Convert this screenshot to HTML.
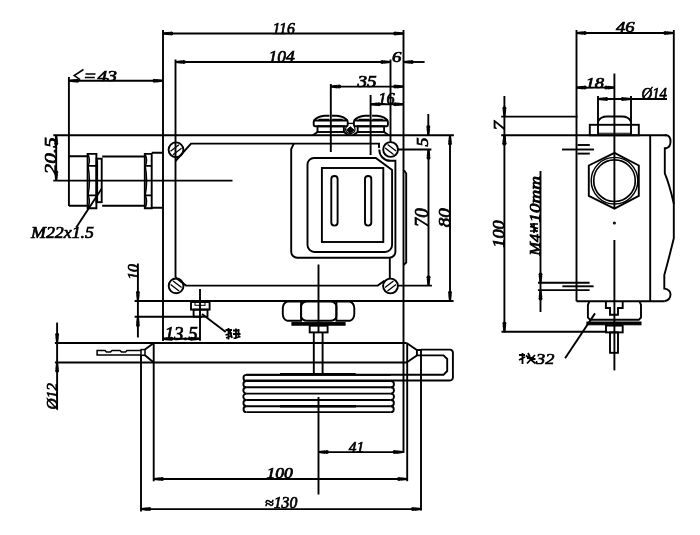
<!DOCTYPE html>
<html><head><meta charset="utf-8"><style>
html,body{margin:0;padding:0;background:#fff;}
svg{display:block;will-change:transform;}
text{font-family:"Liberation Serif",serif;font-style:italic;fill:#000;stroke:#000;stroke-width:0.7px;}
</style></head><body>
<svg width="700" height="535" viewBox="0 0 700 535">
<rect width="700" height="535" fill="#fff"/>
<g stroke="#000" stroke-width="1.9" fill="none" stroke-linecap="butt">
<line x1="163" y1="30" x2="163" y2="341"/>
<line x1="403.5" y1="30" x2="403.5" y2="453"/>
<line x1="163" y1="33.5" x2="403.5" y2="33.5"/>
<polygon points="163.00,34.50 169.80,35.30 169.80,31.70 163.00,32.50" fill="#000" stroke="none"/>
<circle cx="171.30" cy="33.50" r="2.0" fill="#000" stroke="none"/>
<polygon points="403.50,32.50 396.70,31.70 396.70,35.30 403.50,34.50" fill="#000" stroke="none"/>
<circle cx="395.20" cy="33.50" r="2.0" fill="#000" stroke="none"/>
<text x="272.4" y="33.7" font-size="16.9" textLength="22.4" lengthAdjust="spacingAndGlyphs">116</text>
<line x1="175.5" y1="59.5" x2="175.5" y2="277.5"/>
<line x1="390.5" y1="59.5" x2="390.5" y2="142.5"/>
<line x1="175.5" y1="62" x2="390.5" y2="62"/>
<polygon points="175.50,63.00 182.30,63.80 182.30,60.20 175.50,61.00" fill="#000" stroke="none"/>
<circle cx="183.80" cy="62.00" r="2.0" fill="#000" stroke="none"/>
<polygon points="390.50,61.00 383.70,60.20 383.70,63.80 390.50,63.00" fill="#000" stroke="none"/>
<circle cx="382.20" cy="62.00" r="2.0" fill="#000" stroke="none"/>
<text x="268.5" y="62.2" font-size="16.9" textLength="26.3" lengthAdjust="spacingAndGlyphs">104</text>
<line x1="403.5" y1="62" x2="424.6" y2="62"/>
<polygon points="403.50,63.00 410.30,63.80 410.30,60.20 403.50,61.00" fill="#000" stroke="none"/>
<circle cx="411.80" cy="62.00" r="2.0" fill="#000" stroke="none"/>
<text x="392" y="61.9" font-size="14.6" textLength="9.4" lengthAdjust="spacingAndGlyphs">6</text>
<line x1="330.8" y1="84" x2="330.8" y2="152"/>
<line x1="330.8" y1="86.6" x2="403.5" y2="86.6"/>
<polygon points="330.80,87.60 337.60,88.40 337.60,84.80 330.80,85.60" fill="#000" stroke="none"/>
<circle cx="339.10" cy="86.60" r="2.0" fill="#000" stroke="none"/>
<polygon points="403.50,85.60 396.70,84.80 396.70,88.40 403.50,87.60" fill="#000" stroke="none"/>
<circle cx="395.20" cy="86.60" r="2.0" fill="#000" stroke="none"/>
<text x="357.4" y="86.7" font-size="15.7" textLength="19.2" lengthAdjust="spacingAndGlyphs">35</text>
<line x1="370.6" y1="95" x2="370.6" y2="155"/>
<line x1="370.6" y1="104.3" x2="403.5" y2="104.3"/>
<polygon points="370.60,105.30 377.40,106.10 377.40,102.50 370.60,103.30" fill="#000" stroke="none"/>
<circle cx="378.90" cy="104.30" r="2.0" fill="#000" stroke="none"/>
<polygon points="403.50,103.30 396.70,102.50 396.70,106.10 403.50,105.30" fill="#000" stroke="none"/>
<circle cx="395.20" cy="104.30" r="2.0" fill="#000" stroke="none"/>
<text x="378.3" y="103.9" font-size="15.7" textLength="16.3" lengthAdjust="spacingAndGlyphs">16</text>
<line x1="68.9" y1="77" x2="68.9" y2="206"/>
<line x1="68.9" y1="80.7" x2="162.8" y2="80.7"/>
<polygon points="68.90,81.70 75.70,82.50 75.70,78.90 68.90,79.70" fill="#000" stroke="none"/>
<circle cx="77.20" cy="80.70" r="2.0" fill="#000" stroke="none"/>
<polygon points="162.80,79.70 156.00,78.90 156.00,82.50 162.80,81.70" fill="#000" stroke="none"/>
<circle cx="154.50" cy="80.70" r="2.0" fill="#000" stroke="none"/>
<text x="97.5" y="80.5" font-size="14.7" textLength="19.4" lengthAdjust="spacingAndGlyphs">43</text>
<path d="M83.5,69.5 L74.2,75.6 L80.2,79.6 M85.5,73.9 H95.5 M84.8,77.4 H94.8" stroke-width="1.5"/>
<line x1="53.3" y1="135.3" x2="453.9" y2="135.3"/>
<line x1="53.3" y1="180.6" x2="232.5" y2="180.6"/>
<line x1="56.2" y1="135.3" x2="56.2" y2="180.6"/>
<polygon points="55.20,135.30 54.40,142.10 58.00,142.10 57.20,135.30" fill="#000" stroke="none"/>
<circle cx="56.20" cy="143.60" r="2.0" fill="#000" stroke="none"/>
<polygon points="57.20,180.60 58.00,173.80 54.40,173.80 55.20,180.60" fill="#000" stroke="none"/>
<circle cx="56.20" cy="172.30" r="2.0" fill="#000" stroke="none"/>
<text transform="translate(56.3,174.5) rotate(-90)" x="0" y="0" font-size="17.5" textLength="37.3" lengthAdjust="spacingAndGlyphs">20.5</text>
<path d="M68.9,156.2 H87.8 M68.9,205.8 H87.8"/>
<path d="M87.6,208.3 V153.9 H96.4 V208.3 Z M87.6,165.9 H96.4 M87.6,195.4 H96.4"/>
<rect x="96.5" y="158.7" width="5.2" height="43.5"/>
<line x1="97.5" y1="160.4" x2="97.5" y2="202.2" stroke-width="1.2"/>
<path d="M88.1,154.6 Q90.8,160.45 88.1,166.3" stroke-width="1.4"/>
<path d="M88.1,166.3 Q90.8,180.65 88.1,195" stroke-width="1.4"/>
<path d="M88.1,195 Q90.8,201.4 88.1,207.8" stroke-width="1.4"/>
<path d="M145.3,154.6 Q148.0,160.45 145.3,166.3" stroke-width="1.4"/>
<path d="M145.3,166.3 Q148.0,180.65 145.3,195" stroke-width="1.4"/>
<path d="M145.3,195 Q148.0,201.4 145.3,207.8" stroke-width="1.4"/>
<path d="M102.2,156.5 H144.8 M102.2,205.8 H144.8"/>
<path d="M144.8,208.3 V153.9 H151.7 V208.3 Z M144.8,165.9 H151.7 M144.8,195.4 H151.7"/>
<path d="M151.7,152.8 H162.4 M151.7,207.8 H162.4"/>
<line x1="101.6" y1="188.8" x2="76.2" y2="227.6"/>
<text x="31" y="238.0" font-size="15.9" textLength="63.0" lengthAdjust="spacingAndGlyphs">M22x1.5</text>
<path d="M175.5,161 L191,143.6 H379 V148"/>
<path d="M379.3,149.5 A11,11 0 0 0 390.3,160.8 H395.4 V252 A6,6 0 0 1 389.4,257.7 H297.4 A6,6 0 0 1 291.2,251.7 V149 L293.8,143.6"/>
<circle cx="176" cy="149.8" r="7.4"/>
<path d="M170.5,151.3 L179,144.8 M173,154.8 L181.5,148.3" stroke-width="1.3"/>
<circle cx="390.6" cy="149.5" r="7.4"/>
<path d="M385.1,148.0 L393.6,154.5 M387.6,144.5 L396.1,151.0" stroke-width="1.3"/>
<circle cx="176.1" cy="285.9" r="7.4"/>
<path d="M170.6,284.4 L179.1,290.9 M173.1,280.9 L181.6,287.4" stroke-width="1.3"/>
<circle cx="390.5" cy="286" r="7.4"/>
<path d="M385.0,287.5 L393.5,281 M387.5,291 L396.0,284.5" stroke-width="1.3"/>
<line x1="397.6" y1="149.5" x2="431.4" y2="149.5"/>
<path d="M175.5,277.5 L186,285.6 H377.8 L384.4,280.8"/>
<line x1="397.6" y1="285.6" x2="431.9" y2="285.6"/>
<line x1="389.8" y1="257.7" x2="389.8" y2="278.2"/>
<line x1="134.6" y1="301" x2="453.6" y2="301"/>
<path d="M314,158 H375.8 L392.1,170.1 V245 A7,7 0 0 1 385.1,252 H314.5 A7,7 0 0 1 307.5,245 V164.5 A6.5,6.5 0 0 1 314,158 Z"/>
<rect x="321.9" y="168" width="61.4" height="74"/>
<rect x="331.3" y="176" width="6.3" height="49.6" rx="3.1"/>
<rect x="365" y="176" width="6.3" height="49.6" rx="3.1"/>
<path d="M403.5,171 H404.5 L406.2,173.5 V262.5 L403.5,265"/>
<path d="M314.0,120.5 Q317.7,116.3 324.7,115.8 H329.5 M331.9,115.8 H336.7 Q343.7,116.3 347.4,120.5"/>
<path d="M318.7,119.3 H329.2 M332.2,119.3 H342.7" stroke-width="1.2"/>
<rect x="313.7" y="120.5" width="34" height="5.8" rx="1.2"/>
<rect x="317.5" y="126.3" width="26.4" height="5.7"/>
<path d="M312.9,135.3 L317.5,132 M343.9,132 L348.5,135.3"/>
<path d="M354.2,120.5 Q357.9,116.3 364.9,115.8 H369.7 M372.09999999999997,115.8 H376.9 Q383.9,116.3 387.59999999999997,120.5"/>
<path d="M358.9,119.3 H369.4 M372.4,119.3 H382.9" stroke-width="1.2"/>
<rect x="353.9" y="120.5" width="34" height="5.8" rx="1.2"/>
<rect x="357.7" y="126.3" width="26.4" height="5.7"/>
<path d="M353.09999999999997,135.3 L357.7,132 M384.09999999999997,132 L388.7,135.3"/>
<line x1="347.7" y1="123.4" x2="353.9" y2="123.4" stroke-width="1.3"/>
<path d="M350.3,126.8 L354,130 L350.3,133.2 L346.6,130 Z" fill="#000" stroke-width="1.0"/>
<path d="M346.5,126 Q345,129 346,131.5 L350.3,134.3 L354.6,131.5 Q355.6,129 354.2,126" stroke-width="1.2"/>
<line x1="428.3" y1="114" x2="428.3" y2="135.3"/>
<polygon points="429.30,135.30 430.10,128.50 426.50,128.50 427.30,135.30" fill="#000" stroke="none"/>
<circle cx="428.30" cy="127.00" r="2.0" fill="#000" stroke="none"/>
<line x1="428.5" y1="149.5" x2="428.5" y2="285.6"/>
<polygon points="427.50,149.50 426.70,156.30 430.30,156.30 429.50,149.50" fill="#000" stroke="none"/>
<circle cx="428.50" cy="157.80" r="2.0" fill="#000" stroke="none"/>
<polygon points="429.50,285.60 430.30,278.80 426.70,278.80 427.50,285.60" fill="#000" stroke="none"/>
<circle cx="428.50" cy="277.30" r="2.0" fill="#000" stroke="none"/>
<text transform="translate(428.3,146.5) rotate(-90)" x="0" y="0" font-size="16.3" textLength="9.0" lengthAdjust="spacingAndGlyphs">5</text>
<text transform="translate(428.3,227.3) rotate(-90)" x="0" y="0" font-size="17.8" textLength="19.0" lengthAdjust="spacingAndGlyphs">70</text>
<line x1="450" y1="135.3" x2="450" y2="301"/>
<polygon points="449.00,135.30 448.20,142.10 451.80,142.10 451.00,135.30" fill="#000" stroke="none"/>
<circle cx="450.00" cy="143.60" r="2.0" fill="#000" stroke="none"/>
<polygon points="451.00,301.00 451.80,294.20 448.20,294.20 449.00,301.00" fill="#000" stroke="none"/>
<circle cx="450.00" cy="292.70" r="2.0" fill="#000" stroke="none"/>
<text transform="translate(450.0,227.3) rotate(-90)" x="0" y="0" font-size="16.0" textLength="19.0" lengthAdjust="spacingAndGlyphs">80</text>
<line x1="134.6" y1="316.7" x2="202" y2="316.7"/>
<line x1="137.9" y1="263.5" x2="137.9" y2="337.5"/>
<polygon points="138.90,301.00 139.70,294.20 136.10,294.20 136.90,301.00" fill="#000" stroke="none"/>
<circle cx="137.90" cy="292.70" r="2.0" fill="#000" stroke="none"/>
<polygon points="136.90,316.70 136.10,323.50 139.70,323.50 138.90,316.70" fill="#000" stroke="none"/>
<circle cx="137.90" cy="325.00" r="2.0" fill="#000" stroke="none"/>
<text transform="translate(137.5,279.8) rotate(-90)" x="0" y="0" font-size="15.6" textLength="15.8" lengthAdjust="spacingAndGlyphs">10</text>
<rect x="191" y="302" width="18.6" height="7.6"/>
<rect x="195" y="302" width="10" height="3.3" stroke-width="1.0"/>
<rect x="193.6" y="309.6" width="13.9" height="7.1"/>
<line x1="200" y1="288.9" x2="200" y2="340.7"/>
<line x1="163" y1="338.8" x2="200" y2="338.8"/>
<polygon points="163.00,339.80 169.80,340.60 169.80,337.00 163.00,337.80" fill="#000" stroke="none"/>
<circle cx="171.30" cy="338.80" r="2.0" fill="#000" stroke="none"/>
<polygon points="200.00,337.80 193.20,337.00 193.20,340.60 200.00,339.80" fill="#000" stroke="none"/>
<circle cx="191.70" cy="338.80" r="2.0" fill="#000" stroke="none"/>
<text x="164.6" y="339.5" font-size="18.8" textLength="33.3" lengthAdjust="spacingAndGlyphs">13.5</text>
<line x1="202" y1="314" x2="225.7" y2="332"/>
<path d="M225.5,330 H232 M228.5,328 V339.5 M225.5,335 L232,333 M230,331 L232,338 M226,338 L231,336 M233,330.5 H239.5 M233,334 H240.5 M233.5,338.5 L240.5,336.5 M236,328.5 V339 M238.5,329 V337" stroke-width="1.8"/>
<line x1="54.9" y1="343" x2="406.6" y2="343"/>
<line x1="54.9" y1="362.5" x2="406.6" y2="362.5"/>
<line x1="57.1" y1="322.6" x2="57.1" y2="409.4"/>
<polygon points="58.10,343.00 58.90,336.20 55.30,336.20 56.10,343.00" fill="#000" stroke="none"/>
<circle cx="57.10" cy="334.70" r="2.0" fill="#000" stroke="none"/>
<polygon points="56.10,362.50 55.30,369.30 58.90,369.30 58.10,362.50" fill="#000" stroke="none"/>
<circle cx="57.10" cy="370.80" r="2.0" fill="#000" stroke="none"/>
<text transform="translate(57.3,409.4) rotate(-90)" x="0" y="0" font-size="14.9" textLength="26.4" lengthAdjust="spacingAndGlyphs">&#216;12</text>
<line x1="153.7" y1="343" x2="153.7" y2="481.3"/>
<line x1="141" y1="355.3" x2="141" y2="511.4"/>
<path d="M141,350.4 H127 L125.5,352 H121.5 L120,350.4 H112 L110.5,352 H106.5 L105,350.4 H97.1 V355 H141" stroke-width="1.5"/>
<rect x="141" y="349.6" width="4" height="5.7" stroke-width="1.5"/>
<path d="M145,349.6 L153.7,343 M145,355.3 L153.7,362.5"/>
<path d="M406.6,343 L416.9,350 H421 M406.6,362.5 L416.9,355.4 H421"/>
<line x1="416.9" y1="350" x2="416.9" y2="355.4"/>
<line x1="407.2" y1="343" x2="407.2" y2="481.2"/>
<line x1="421" y1="350" x2="421" y2="510.5"/>
<path d="M421,349.6 H449.9 A3,3 0 0 1 452.9,352.6 V377.5 A3,3 0 0 1 449.9,380.5 H246"/>
<path d="M421,355.4 H443.5 L447.2,359 V371 L443.5,374.8 H246"/>
<path d="M301.1,301.5 H287.5 Q283,303 282.8,308 V314 Q283,319.5 287.5,320.8 H301.1 Z"/>
<path d="M336.4,301.5 H349.6 Q354.1,303 354.3,308 V314 Q354.1,319.5 349.6,320.8 H336.4 Z"/>
<path d="M301.1,306 Q302,301.8 307,301.5 H330.5 Q335.5,301.8 336.4,306 V316.5 Q335.5,320.6 330.5,320.8 H307 Q302,320.6 301.1,316.5 Z"/>
<rect x="291.9" y="322.6" width="53.2" height="2.6" fill="#000" stroke-width="1.0"/>
<rect x="309.7" y="325.7" width="17.9" height="6.7"/>
<line x1="313.8" y1="332.4" x2="313.8" y2="373.7"/>
<line x1="322.6" y1="332.4" x2="322.6" y2="373.7"/>
<line x1="318.5" y1="264.5" x2="318.5" y2="332"/>
<line x1="280" y1="373.7" x2="355.7" y2="373.7" stroke-width="1.2"/>
<line x1="246.5" y1="374.9" x2="390.8" y2="374.9"/>
<line x1="246.5" y1="381" x2="390.8" y2="381"/>
<line x1="246.5" y1="387.3" x2="390.8" y2="387.3"/>
<line x1="246.5" y1="393.6" x2="390.8" y2="393.6"/>
<line x1="246.5" y1="400" x2="390.8" y2="400"/>
<line x1="246.5" y1="406.2" x2="390.8" y2="406.2"/>
<line x1="246.5" y1="412.1" x2="390.8" y2="412.1"/>
<path d="M246.5,374.9 A3.0500000000000114,3.0500000000000114 0 0 0 246.5,381"/>
<path d="M246.5,381 A3.1500000000000057,3.1500000000000057 0 0 0 246.5,387.3"/>
<path d="M246.5,387.3 A3.1500000000000057,3.1500000000000057 0 0 0 246.5,393.6"/>
<path d="M246.5,393.6 A3.1999999999999886,3.1999999999999886 0 0 0 246.5,400"/>
<path d="M246.5,400 A3.0999999999999943,3.0999999999999943 0 0 0 246.5,406.2"/>
<path d="M246.5,406.2 A2.950000000000017,2.950000000000017 0 0 0 246.5,412.1"/>
<path d="M390.8,381 A3.1500000000000057,3.1500000000000057 0 0 1 390.8,387.3"/>
<path d="M390.8,387.3 A3.1500000000000057,3.1500000000000057 0 0 1 390.8,393.6"/>
<path d="M390.8,393.6 A3.1999999999999886,3.1999999999999886 0 0 1 390.8,400"/>
<path d="M390.8,400 A3.0999999999999943,3.0999999999999943 0 0 1 390.8,406.2"/>
<path d="M390.8,406.2 A2.950000000000017,2.950000000000017 0 0 1 390.8,412.1"/>
<line x1="318.5" y1="397" x2="318.5" y2="494.5"/>
<line x1="280" y1="406.2" x2="356" y2="406.2" stroke-width="2.6"/>
<line x1="318.6" y1="452.1" x2="402.9" y2="452.1"/>
<polygon points="318.60,453.10 325.40,453.90 325.40,450.30 318.60,451.10" fill="#000" stroke="none"/>
<circle cx="326.90" cy="452.10" r="2.0" fill="#000" stroke="none"/>
<polygon points="402.90,451.10 396.10,450.30 396.10,453.90 402.90,453.10" fill="#000" stroke="none"/>
<circle cx="394.60" cy="452.10" r="2.0" fill="#000" stroke="none"/>
<text x="348.7" y="451.5" font-size="15.4" textLength="15.4" lengthAdjust="spacingAndGlyphs">41</text>
<line x1="153.7" y1="479" x2="407.3" y2="479"/>
<polygon points="153.70,480.00 160.50,480.80 160.50,477.20 153.70,478.00" fill="#000" stroke="none"/>
<circle cx="162.00" cy="479.00" r="2.0" fill="#000" stroke="none"/>
<polygon points="407.30,478.00 400.50,477.20 400.50,480.80 407.30,480.00" fill="#000" stroke="none"/>
<circle cx="399.00" cy="479.00" r="2.0" fill="#000" stroke="none"/>
<text x="266.4" y="477.7" font-size="14.7" textLength="26.5" lengthAdjust="spacingAndGlyphs">100</text>
<line x1="141" y1="509.1" x2="421.2" y2="509.1"/>
<polygon points="141.00,510.10 147.80,510.90 147.80,507.30 141.00,508.10" fill="#000" stroke="none"/>
<circle cx="149.30" cy="509.10" r="2.0" fill="#000" stroke="none"/>
<polygon points="421.20,508.10 414.40,507.30 414.40,510.90 421.20,510.10" fill="#000" stroke="none"/>
<circle cx="412.90" cy="509.10" r="2.0" fill="#000" stroke="none"/>
<text x="265" y="508.0" font-size="15.7" textLength="32.3" lengthAdjust="spacingAndGlyphs">&#8776;130</text>
<line x1="576.5" y1="30" x2="576.5" y2="301.2"/>
<line x1="673.8" y1="30" x2="673.8" y2="204"/>
<line x1="576.5" y1="33" x2="673.6" y2="33"/>
<polygon points="576.50,34.00 583.30,34.80 583.30,31.20 576.50,32.00" fill="#000" stroke="none"/>
<circle cx="584.80" cy="33.00" r="2.0" fill="#000" stroke="none"/>
<polygon points="673.60,32.00 666.80,31.20 666.80,34.80 673.60,34.00" fill="#000" stroke="none"/>
<circle cx="665.30" cy="33.00" r="2.0" fill="#000" stroke="none"/>
<text x="616" y="32.2" font-size="15.0" textLength="18.6" lengthAdjust="spacingAndGlyphs">46</text>
<line x1="614.4" y1="73.5" x2="614.4" y2="209"/>
<line x1="614.4" y1="240" x2="614.4" y2="370.4"/>
<circle cx="614.4" cy="223" r="0.6"/>
<line x1="576.5" y1="87.6" x2="613.6" y2="87.6"/>
<polygon points="576.50,88.60 583.30,89.40 583.30,85.80 576.50,86.60" fill="#000" stroke="none"/>
<circle cx="584.80" cy="87.60" r="2.0" fill="#000" stroke="none"/>
<polygon points="614.50,86.60 607.70,85.80 607.70,89.40 614.50,88.60" fill="#000" stroke="none"/>
<circle cx="606.20" cy="87.60" r="2.0" fill="#000" stroke="none"/>
<text x="585.4" y="87.5" font-size="14.9" textLength="18.6" lengthAdjust="spacingAndGlyphs">18</text>
<line x1="598" y1="96" x2="598" y2="135"/>
<line x1="631" y1="96" x2="631" y2="135"/>
<line x1="598" y1="99" x2="667" y2="99"/>
<polygon points="598.00,100.00 604.80,100.80 604.80,97.20 598.00,98.00" fill="#000" stroke="none"/>
<circle cx="606.30" cy="99.00" r="2.0" fill="#000" stroke="none"/>
<polygon points="631.00,98.00 624.20,97.20 624.20,100.80 631.00,100.00" fill="#000" stroke="none"/>
<circle cx="622.70" cy="99.00" r="2.0" fill="#000" stroke="none"/>
<text x="641.5" y="99.3" font-size="16.6" textLength="25.5" lengthAdjust="spacingAndGlyphs">&#216;14</text>
<line x1="504.4" y1="96" x2="504.4" y2="332.5"/>
<line x1="501.2" y1="116.6" x2="577.5" y2="116.6"/>
<line x1="501.2" y1="135.3" x2="666.5" y2="135.3"/>
<polygon points="505.40,116.60 506.20,109.80 502.60,109.80 503.40,116.60" fill="#000" stroke="none"/>
<circle cx="504.40" cy="108.30" r="2.0" fill="#000" stroke="none"/>
<polygon points="503.40,135.30 502.60,142.10 506.20,142.10 505.40,135.30" fill="#000" stroke="none"/>
<circle cx="504.40" cy="143.60" r="2.0" fill="#000" stroke="none"/>
<text transform="translate(504.3,130.5) rotate(-90)" x="0" y="0" font-size="14.7" textLength="9.5" lengthAdjust="spacingAndGlyphs">7</text>
<path d="M598,121.5 Q600.5,116.5 607,116.5 H622 Q628.5,116.5 631,121.5"/>
<line x1="598" y1="133.2" x2="631" y2="133.2" stroke-width="1.1"/>
<rect x="589.8" y="124.8" width="49" height="10.5"/>
<line x1="576.5" y1="301.2" x2="664.3" y2="301.2"/>
<line x1="650.2" y1="135.3" x2="650.2" y2="301.2"/>
<path d="M664.8,135.3 H666.5 Q670.5,136 670.5,141.5 Q670.5,147 666.5,148.2 H664.8 V173.4 Q669,183 673.8,203.6 V238.2 Q669,258 664.3,275.1 V288.6 Q670.5,289.5 670.5,294.5 Q670.5,300 664.3,301.2"/>
<path d="M614.5,152.8 L638.8,165.5 V195.9 L614.5,208.6 L588.8,195.9 V165.5 Z"/>
<circle cx="614.5" cy="180.7" r="23.3" stroke-width="1.4"/>
<circle cx="614.5" cy="180.7" r="20.8" stroke-width="1.7"/>
<line x1="577.5" y1="145" x2="589.8" y2="145"/>
<line x1="562" y1="149.5" x2="594" y2="149.5"/>
<line x1="577.5" y1="153.6" x2="589.8" y2="153.6"/>
<line x1="501.5" y1="331.8" x2="607.2" y2="331.8"/>
<polygon points="503.40,135.30 502.60,142.10 506.20,142.10 505.40,135.30" fill="#000" stroke="none"/>
<circle cx="504.40" cy="143.60" r="2.0" fill="#000" stroke="none"/>
<polygon points="505.40,331.80 506.20,325.00 502.60,325.00 503.40,331.80" fill="#000" stroke="none"/>
<circle cx="504.40" cy="323.50" r="2.0" fill="#000" stroke="none"/>
<text transform="translate(504.4,247.7) rotate(-90)" x="0" y="0" font-size="15.7" textLength="27.4" lengthAdjust="spacingAndGlyphs">100</text>
<line x1="540.5" y1="171" x2="540.5" y2="312"/>
<polygon points="541.50,282.70 542.30,275.90 538.70,275.90 539.50,282.70" fill="#000" stroke="none"/>
<circle cx="540.50" cy="274.40" r="2.0" fill="#000" stroke="none"/>
<polygon points="539.50,290.10 538.70,296.90 542.30,296.90 541.50,290.10" fill="#000" stroke="none"/>
<circle cx="540.50" cy="298.40" r="2.0" fill="#000" stroke="none"/>
<line x1="538" y1="282.7" x2="589.6" y2="282.7"/>
<line x1="562.4" y1="286.3" x2="593.6" y2="286.3"/>
<line x1="538" y1="290.1" x2="589.6" y2="290.1"/>
<text transform="translate(539.7,255.5) rotate(-90)" x="0" y="0" font-size="14.0" textLength="21.5" lengthAdjust="spacingAndGlyphs">M4</text>
<text transform="translate(539.7,222.5) rotate(-90)" x="0" y="0" font-size="14.0" textLength="46.5" lengthAdjust="spacingAndGlyphs">10mm</text>
<path d="M530,224 H538 M534,223 V233 M530,226.5 L538,228.5 M530,231 H538 M531,224.5 L537,232" stroke-width="1.7"/>
<path d="M589.5,301.2 L587.9,305 V317.5 L590,319.8 H638.8 L641,317.5 V305 L639.5,301.2"/>
<path d="M605.9,301.2 V308 H610 V314.8 H618 V308 H622.7 V301.2"/>
<rect x="586.9" y="322" width="54.1" height="2.8" fill="#000" stroke-width="1.0"/>
<rect x="606" y="325.6" width="16.7" height="6.8"/>
<rect x="610" y="332.4" width="8" height="20.4"/>
<line x1="595" y1="313.4" x2="565.1" y2="358.2"/>
<text x="536" y="364.3" font-size="15.6" textLength="18.3" lengthAdjust="spacingAndGlyphs">32</text>
<path d="M519,355 H525 M522.5,353 V364 M519,360 L525,357 M526,355.5 L535.5,363.5 M535,355 L527,363.5 M528,353 L530,357 M531,359 H535.5 M527,358 H534" stroke-width="1.8"/>
</g>
</svg>
</body></html>
